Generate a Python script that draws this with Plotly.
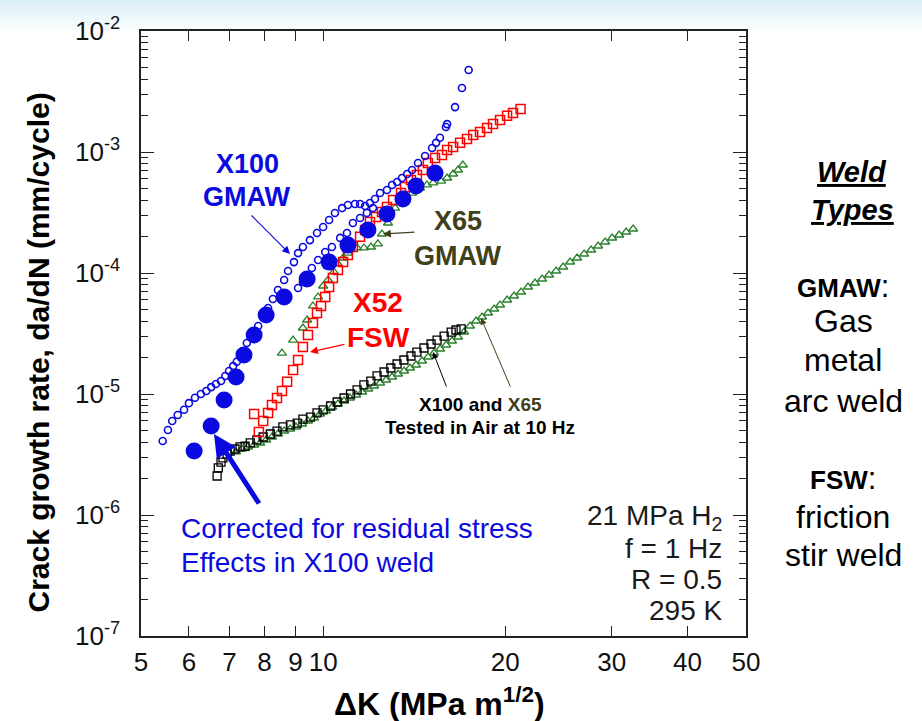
import plotly.graph_objects as go

# ---------------- data ----------------
x100_h2_dk = [5.43,5.54,5.63,5.75,5.89,6.00,6.14,6.28,6.41,6.53,6.65,6.78,6.89,6.99,7.10,7.20,7.29,7.48,7.63,7.81,
              7.96,8.11,8.26,8.42,8.62,8.75,8.95,9.09,9.26,9.51,9.77,10.0,10.23,10.46,10.75,10.99,11.29,11.51,11.73,
              11.95,12.18,12.42,12.75,13.0,13.25,13.5,13.77,14.03,14.35,14.74,15.14,15.37,15.6,15.96,16.03,16.52,16.96,17.4]
x100_h2_da = [4.09e-6,5.04e-6,5.98e-6,6.7e-6,7.4e-6,8.4e-6,9.3e-6,1.0e-5,1.06e-5,1.14e-5,1.21e-5,1.28e-5,1.41e-5,1.55e-5,
              1.70e-5,1.85e-5,2.18e-5,2.64e-5,3.13e-5,3.65e-5,4.33e-5,5.14e-5,6.10e-5,7.24e-5,8.75e-5,1.04e-4,1.23e-4,
              1.46e-4,1.64e-4,1.87e-4,2.14e-4,2.40e-4,2.74e-4,3.13e-4,3.44e-4,3.65e-4,3.72e-4,3.72e-4,3.58e-4,3.79e-4,
              4.09e-4,4.58e-4,4.85e-4,5.34e-4,5.65e-4,6.10e-4,6.58e-4,7.10e-4,8.12e-4,9.27e-4,1.08e-3,1.19e-3,1.31e-3,
              1.61e-3,1.70e-3,2.35e-3,3.38e-3,4.76e-3]
x100_h2b_dk = [9.09,9.26,9.58,9.81,10.08,10.34,10.67,10.95,11.20,11.51,11.81,12.09]
x100_h2b_da = [7.52e-5,8.43e-5,1.10e-4,1.28e-4,1.49e-4,1.64e-4,1.95e-4,2.14e-4,2.59e-4,2.85e-4,3.13e-4,3.44e-4]

x100_corr_dk = [6.12,6.53,6.86,7.18,7.40,7.69,8.05,8.62,9.41,10.23,10.99,11.86,12.75,13.55,14.24,15.31]
x100_corr_da = [3.38e-6,5.44e-6,8.92e-6,1.38e-5,2.10e-5,3.07e-5,4.50e-5,6.34e-5,8.92e-5,1.23e-4,1.70e-4,2.27e-4,
                3.07e-4,4.09e-4,5.24e-4,6.70e-4]

x52_dk = [7.69,7.83,7.96,8.11,8.23,8.39,8.55,8.72,8.92,9.09,9.26,9.44,9.62,9.77,9.92,10.08,10.23,10.38,10.58,10.79,
          10.99,11.20,11.51,11.73,11.95,12.23,12.51,12.75,13.05,13.45,13.66,13.97,14.29,14.62,14.90,15.31,15.72,16.03,
          16.40,16.84,17.29,17.70,18.17,18.66,19.09,19.61,20.14,20.6,21.2]
x52_da = [6.84e-6,4.85e-6,5.98e-6,6.97e-6,8.11e-6,9.27e-6,1.06e-5,1.26e-5,1.58e-5,1.91e-5,2.45e-5,3.07e-5,3.86e-5,
          4.67e-5,5.34e-5,6.34e-5,7.66e-5,9.09e-5,1.06e-4,1.23e-4,1.41e-4,1.64e-4,1.99e-4,2.27e-4,2.64e-4,2.90e-4,
          3.19e-4,3.51e-4,4.01e-4,4.58e-4,5.14e-4,5.87e-4,6.45e-4,7.10e-4,8.12e-4,8.92e-4,9.45e-4,1.04e-3,1.10e-3,
          1.19e-3,1.28e-3,1.38e-3,1.46e-3,1.58e-3,1.70e-3,1.84e-3,1.99e-3,2.10e-3,2.27e-3]

x65_h2_dk = [8.55,8.92,9.26,9.41,9.62,9.81,10.0,10.19,10.42,10.58,10.79,10.99,11.38,11.68,12.0,12.32,12.51,12.8,
             13.15,13.55,14.03,14.46,14.85,15.2,15.67,16.03,16.40,16.71,17.02]
x65_h2_da = [2.18e-5,2.79e-5,3.51e-5,4.09e-5,5.34e-5,6.34e-5,7.81e-5,8.75e-5,1.02e-4,1.19e-4,1.33e-4,1.46e-4,1.61e-4,
             1.61e-4,1.64e-4,1.74e-4,2.10e-4,2.59e-4,3.44e-4,4.01e-4,4.58e-4,5.04e-4,5.34e-4,5.55e-4,5.75e-4,6.10e-4,
             6.58e-4,7.10e-4,7.81e-4]

x100_air_dk = [6.68,6.71,6.78,6.83,6.94,7.02,7.15,7.29,7.43,7.58,7.77,7.96,8.18,8.39,8.58,8.83,9.06,9.26,9.53,9.77,
               10.0,10.29,10.55,10.83,11.10,11.38,11.68,11.99,12.28,12.61,12.94,13.25,13.60,13.97,14.29,14.68,15.08,
               15.43,15.85,16.28,16.58,16.91]
x100_air_da = [2.10e-6,2.45e-6,2.74e-6,2.96e-6,3.19e-6,3.38e-6,3.51e-6,3.65e-6,3.7e-6,3.94e-6,4.17e-6,4.41e-6,4.67e-6,
               4.94e-6,5.34e-6,5.55e-6,5.75e-6,6.21e-6,6.45e-6,6.97e-6,7.38e-6,7.96e-6,8.59e-6,9.27e-6,1.0e-5,1.08e-5,
               1.19e-5,1.28e-5,1.41e-5,1.52e-5,1.64e-5,1.77e-5,1.91e-5,2.06e-5,2.22e-5,2.40e-5,2.59e-5,2.79e-5,3.01e-5,
               3.25e-5,3.38e-5,3.45e-5]

x65_air_dk = [7.18,7.34,7.51,7.69,7.87,8.05,8.23,8.42,8.62,8.82,9.02,9.23,9.44,9.66,9.88,10.11,10.35,10.58,10.83,
              11.08,11.34,11.60,11.87,12.14,12.42,12.71,13.00,13.30,13.61,13.92,14.24,14.57,14.91,15.25,15.61,15.97,
              16.33,16.71,17.10,17.49,17.90,18.31,18.73,19.17,19.61,20.14,20.68,21.24,21.81,22.40,23.01,23.63,24.27,
              24.93,25.60,26.29,27.00,27.73,28.48,29.25,30.04,30.85,31.69,32.54]
x65_air_da = [3.318e-6,3.512e-6,3.648e-6,3.789e-6,3.936e-6,4.167e-6,4.411e-6,4.670e-6,4.944e-6,5.136e-6,5.337e-6,
              5.649e-6,5.981e-6,6.332e-6,6.833e-6,7.234e-6,7.806e-6,8.265e-6,8.749e-6,9.267e-6,9.81e-6,1.039e-5,
              1.100e-5,1.164e-5,1.233e-5,1.305e-5,1.382e-5,1.463e-5,1.549e-5,1.640e-5,1.737e-5,1.874e-5,2.022e-5,
              2.182e-5,2.354e-5,2.541e-5,2.742e-5,2.958e-5,3.253e-5,3.648e-5,4.012e-5,4.330e-5,4.670e-5,5.041e-5,
              5.438e-5,5.981e-5,6.453e-5,6.966e-5,7.660e-5,8.265e-5,8.920e-5,9.63e-5,1.039e-4,1.121e-4,1.233e-4,
              1.330e-4,1.436e-4,1.549e-4,1.671e-4,1.804e-4,1.947e-4,2.061e-4,2.182e-4,2.311e-4]

x_tick_vals = [5, 6, 7, 8, 9, 10, 20, 30, 40, 50]
x_tick_text = ["5", "6", "7", "8", "9", "10", "20", "30", "40", "50"]
y_tick_vals = [1e-7, 1e-6, 1e-5, 1e-4, 1e-3, 1e-2]
y_tick_text = ["10<sup>-7</sup>", "10<sup>-6</sup>", "10<sup>-5</sup>", "10<sup>-4</sup>", "10<sup>-3</sup>", "10<sup>-2</sup>"]

# ---------------- styling / layout helpers ----------------
W, H = 922, 721
L, R, T, B = 141, 746, 31, 636
FONT = "Liberation Sans, Arial, sans-serif"
BLUE = "#0a0ae0"
OLIVE = "#40401a"
GREEN = "#2a7f2a"


def px(xp):
    return (xp - L) / (R - L)


def py(yp):
    return (B - yp) / (B - T)


fig = go.Figure()

fig.add_trace(go.Scatter(x=x65_air_dk, y=x65_air_da, mode="markers", name="X65 air",
                         marker=dict(symbol="triangle-up-open", size=8, color=GREEN, line=dict(width=1.3))))
fig.add_trace(go.Scatter(x=x100_air_dk, y=x100_air_da, mode="markers", name="X100 air",
                         marker=dict(symbol="square-open", size=8, color="black", line=dict(width=1.3))))
fig.add_trace(go.Scatter(x=x65_h2_dk, y=x65_h2_da, mode="markers", name="X65 GMAW",
                         marker=dict(symbol="triangle-up-open", size=8, color=GREEN, line=dict(width=1.3))))
fig.add_trace(go.Scatter(x=x52_dk, y=x52_da, mode="markers", name="X52 FSW",
                         marker=dict(symbol="square-open", size=9, color="#ff0000", line=dict(width=1.5))))
fig.add_trace(go.Scatter(x=x100_h2_dk, y=x100_h2_da, mode="markers", name="X100 GMAW",
                         marker=dict(symbol="circle-open", size=7, color=BLUE, line=dict(width=1.6))))
fig.add_trace(go.Scatter(x=x100_h2b_dk, y=x100_h2b_da, mode="markers", name="X100 GMAW b",
                         marker=dict(symbol="circle-open", size=7, color=BLUE, line=dict(width=1.6))))
fig.add_trace(go.Scatter(x=x100_corr_dk, y=x100_corr_da, mode="markers", name="X100 corrected",
                         marker=dict(symbol="circle", size=17, color=BLUE, line=dict(width=0))))

ann = []


def text(xp, yp, s, size, color="black", bold=False, xanchor="center"):
    if bold:
        s = "<b>" + s + "</b>"
    ann.append(dict(x=px(xp), y=py(yp), xref="paper", yref="paper", text=s, showarrow=False,
                    xanchor=xanchor, yanchor="middle", font=dict(family=FONT, size=size, color=color)))


def arrow(x0, y0, x1, y1, color, width=1.2, head=2, hsize=1.2):
    ann.append(dict(x=px(x1), y=py(y1), xref="paper", yref="paper", ax=x0 - x1, ay=y0 - y1,
                    axref="pixel", ayref="pixel", text="", showarrow=True, arrowhead=head,
                    arrowsize=hsize, arrowwidth=width, arrowcolor=color))


# in-plot labels
text(247, 164, "X100", 27, BLUE, True)
text(247, 197, "GMAW", 27, BLUE, True)
arrow(250, 214, 290, 254, BLUE, 1.2, 2, 1.3)

text(458, 221, "X65", 27, OLIVE, True)
text(458, 256, "GMAW", 27, OLIVE, True)
arrow(416, 232, 383, 234, OLIVE, 1.2, 2, 1.3)

text(378, 302, "X52", 28, "#ff0000", True)
text(378, 337, "FSW", 28, "#ff0000", True)
arrow(346, 344, 310, 352, "#ff0000", 1.2, 2, 1.3)

text(480, 404, "X100 and <span style='color:%s'>X65</span>" % OLIVE, 19, "black", True)
text(480, 428, "Tested in Air at 10 Hz", 19, "black", True)
arrow(447, 388, 433, 352, "black", 1.0, 2, 1.3)
arrow(511, 388, 481, 318, OLIVE, 1.0, 2, 1.3)

arrow(260, 505, 214, 434, BLUE, 5, 2, 0.9)
text(179, 528, "Corrected for residual stress", 28, BLUE, False, "left")
text(179, 562, "Effects in X100 weld", 28, BLUE, False, "left")

text(724, 517, "21 MPa H<sub>2</sub>", 28, "#1a1a1a", False, "right")
text(724, 548, "f = 1 Hz", 28, "#1a1a1a", False, "right")
text(724, 579, "R = 0.5", 28, "#1a1a1a", False, "right")
text(724, 610, "295 K", 28, "#1a1a1a", False, "right")

# side panel
text(852, 172, "<b><i><u>Weld</u></i></b>", 29)
text(852, 210, "<b><i><u>Types</u></i></b>", 29)
text(843, 286, "<b><span style='font-size:26px'>GMAW</span></b>:", 31)
text(843, 321, "Gas", 32)
text(843, 360, "metal", 32)
text(843, 401, "arc weld", 32)
text(843, 478, "<b><span style='font-size:26px'>FSW</span></b>:", 31)
text(843, 517, "friction", 32)
text(843, 555, "stir weld", 32)

# axis titles
ann.append(dict(x=px(19), y=py(353), xref="paper", yref="paper", text="<b>Crack growth rate, da/dN (mm/cycle)</b>",
                showarrow=False, textangle=-90, font=dict(family=FONT, size=30, color="black")))
text(439, 702, "ΔK (MPa m<sup>1/2</sup>)", 32, "black", True)

# faint slide gradient at top
shapes = []
grad = ["#dcf0f7", "#e2f2f8", "#e8f5fa", "#eef7fb", "#f3fafc", "#f8fcfd"]
for i, c in enumerate(grad):
    shapes.append(dict(type="rect", xref="paper", yref="paper", x0=px(0), x1=px(W),
                       y0=py(5 * (i + 1)), y1=py(5 * i), fillcolor=c, line=dict(width=0), layer="below"))

fig.update_layout(
    width=W, height=H, margin=dict(l=L, r=W - R, t=T, b=H - B),
    paper_bgcolor="white", plot_bgcolor="white", showlegend=False,
    annotations=ann, shapes=shapes,
    font=dict(family=FONT, color="black"),
)
fig.update_xaxes(type="log", range=[0.69897, 1.69897], tickvals=x_tick_vals, ticktext=x_tick_text,
                 ticks="inside", ticklen=10, tickwidth=1.3, tickcolor="#222",
                 showline=True, linecolor="#222", linewidth=1.5, mirror="ticks", showgrid=False, zeroline=False,
                 tickfont=dict(family=FONT, size=26, color="#111"), ticklabelstandoff=2)
fig.update_yaxes(type="log", range=[-7, -2], tickvals=y_tick_vals, ticktext=y_tick_text,
                 ticks="inside", ticklen=13, tickwidth=1.3, tickcolor="#222",
                 minor=dict(ticks="inside", ticklen=7, tickwidth=1.2, tickcolor="#222", dtick="D1", showgrid=False),
                 showline=True, linecolor="#222", linewidth=1.5, mirror="ticks", showgrid=False, zeroline=False,
                 tickfont=dict(family=FONT, size=26, color="#111"), ticklabelstandoff=14)

fig.write_html("out.html")
